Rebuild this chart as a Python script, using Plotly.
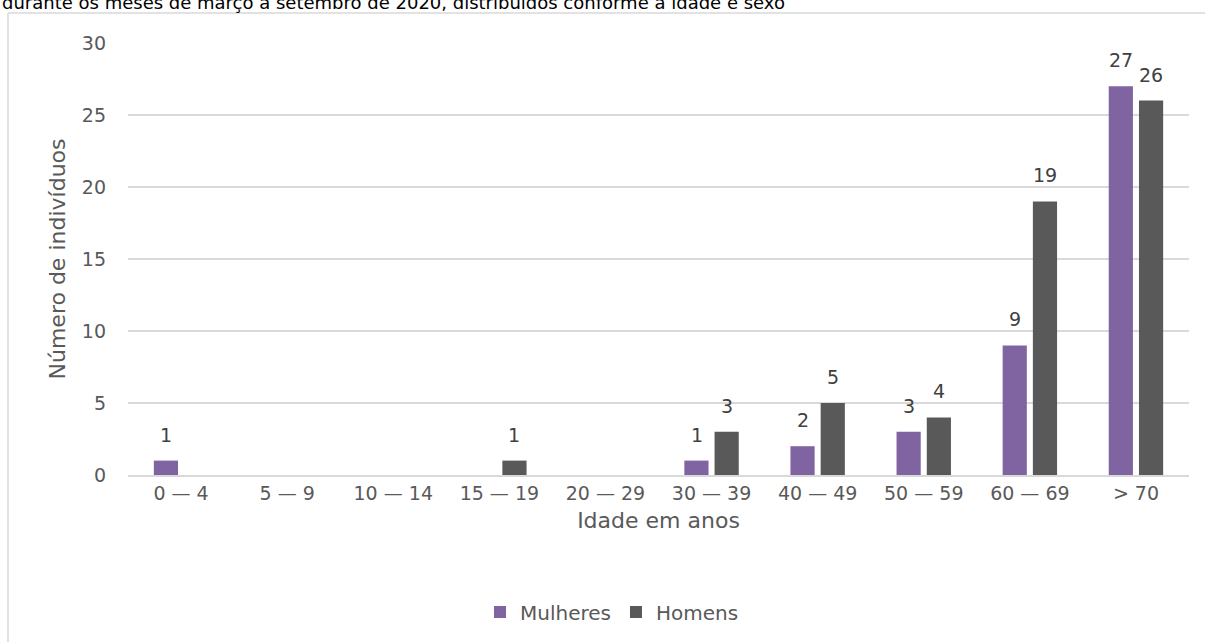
import plotly.graph_objects as go

# Age groups and counts by sex
faixas = ["0 — 4", "5 — 9", "10 — 14", "15 — 19", "20 — 29",
          "30 — 39", "40 — 49", "50 — 59", "60 — 69", "> 70"]
mulheres = [1, 0, 0, 0, 0, 1, 2, 3, 9, 27]
homens = [0, 0, 0, 1, 0, 3, 5, 4, 19, 26]
y_ticks = [0, 5, 10, 15, 20, 25, 30]

titulo = "durante os meses de março a setembro de 2020, distribuídos conforme a idade e sexo"

FONT = "DejaVu Sans"
W, H = 1205, 642
L, R, T, B = 128, 16, 43, 166
PW, PH = W - L - R, H - T - B


def px_x(p):
    return (p - L) / PW


def px_y(p):
    return (H - B - p) / PH


fig = go.Figure()
series = [("Mulheres", mulheres, "#8064A2", -15), ("Homens", homens, "#595959", 15)]
for nome, vals, cor, dx in series:
    fig.add_trace(go.Bar(
        name=nome, x=faixas, y=vals,
        marker=dict(color=cor, line=dict(width=0)),
    ))
    # Value labels above each non-zero bar
    for cat, v in zip(faixas, vals):
        if v:
            fig.add_annotation(x=cat, y=v, text=str(v), showarrow=False,
                               xshift=dx, yshift=26, yanchor="middle",
                               font=dict(family=FONT, size=19, color="#404040"))

fig.update_layout(
    width=W, height=H,
    margin=dict(l=L, r=R, t=T, b=B),
    paper_bgcolor="white", plot_bgcolor="white",
    barmode="group", bargap=0.43, bargroupgap=0.2,
    font=dict(family=FONT, color="#595959", size=18),
    xaxis=dict(
        type="category", showgrid=False, showline=True,
        linecolor="#D9D9D9", linewidth=1.5, ticks="",
        tickfont=dict(size=19, color="#595959"),
        title=dict(text="Idade em anos", font=dict(size=22, color="#595959"), standoff=10),
    ),
    yaxis=dict(
        range=[0, 30], tickvals=y_ticks, showgrid=True,
        gridcolor="#D9D9D9", gridwidth=1.5, zeroline=False, showline=False,
        ticks="", ticklabelstandoff=21,
        tickfont=dict(size=19, color="#595959"),
        title=dict(text="Número de indivíduos", font=dict(size=22, color="#595959"), standoff=10),
    ),
    legend=dict(
        orientation="h", x=px_x(612), xanchor="center", y=px_y(612), yanchor="middle",
        font=dict(size=20, color="#595959"), itemwidth=30, traceorder="normal",
    ),
    showlegend=True,
)

# Chart frame (top and left edges)
fig.add_shape(type="line", xref="paper", yref="paper",
              x0=px_x(8), x1=px_x(W + 5), y0=px_y(13), y1=px_y(13),
              line=dict(color="#D9D9D9", width=1.5))
fig.add_shape(type="line", xref="paper", yref="paper",
              x0=px_x(8), x1=px_x(8), y0=px_y(13), y1=px_y(H + 5),
              line=dict(color="#D9D9D9", width=1.5))

# Caption line above the frame
fig.add_annotation(text=titulo, xref="paper", yref="paper",
                   x=px_x(0), y=px_y(2), xanchor="left", yanchor="middle",
                   showarrow=False, font=dict(family=FONT, size=18, color="#000000"))

fig.write_html("out.html")
